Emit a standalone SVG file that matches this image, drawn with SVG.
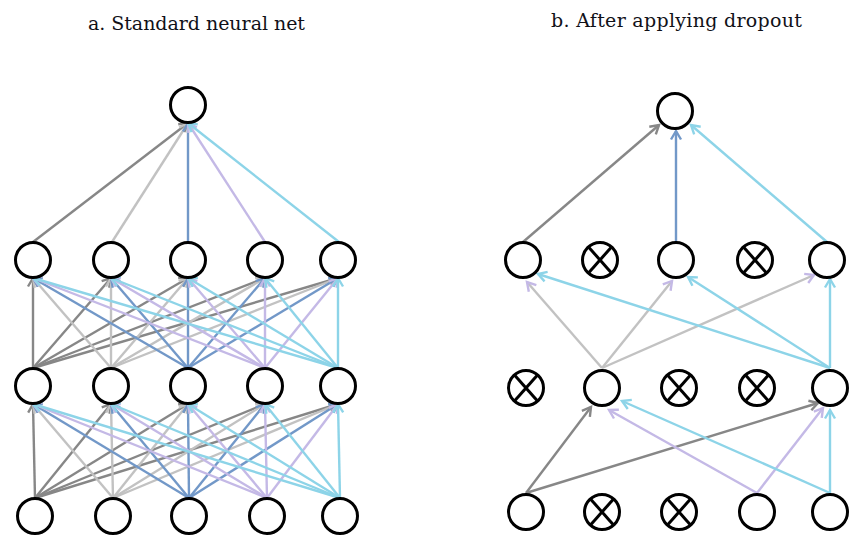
<svg xmlns="http://www.w3.org/2000/svg" width="850" height="538" viewBox="0 0 850 538">
  <style>
    .title { font-family: "DejaVu Serif", "Liberation Serif", serif; font-size: 19px; fill: #111118; }
    .node use { fill: #ffffff; stroke: #000000; stroke-width: 3; }
    .node line { stroke: #000000; stroke-width: 3; stroke-linecap: butt; }
    #edges line { fill: none; stroke-width: 2.4; }
    .c0 { stroke: #878787; marker-end: url(#h0); }
    .c1 { stroke: #c2c2c2; marker-end: url(#h1); }
    .c2 { stroke: #7298c8; marker-end: url(#h2); }
    .c3 { stroke: #c4b9e6; marker-end: url(#h3); }
    .c4 { stroke: #8dd4e8; marker-end: url(#h4); }
    .c1 .lh { marker-end: url(#h3); }
  </style>
  <defs>
    <!-- open "V" arrowheads, one per edge colour -->
    <marker id="h0" markerUnits="userSpaceOnUse" viewBox="-12 -7 14 14" markerWidth="14" markerHeight="14" refX="0" refY="0" orient="auto" overflow="visible">
      <path d="M-8.5,-5 L0,0 L-8.5,5" fill="none" stroke="#878787" stroke-width="2.4"/>
    </marker>
    <marker id="h1" markerUnits="userSpaceOnUse" viewBox="-12 -7 14 14" markerWidth="14" markerHeight="14" refX="0" refY="0" orient="auto" overflow="visible">
      <path d="M-8.5,-5 L0,0 L-8.5,5" fill="none" stroke="#c2c2c2" stroke-width="2.4"/>
    </marker>
    <marker id="h2" markerUnits="userSpaceOnUse" viewBox="-12 -7 14 14" markerWidth="14" markerHeight="14" refX="0" refY="0" orient="auto" overflow="visible">
      <path d="M-8.5,-5 L0,0 L-8.5,5" fill="none" stroke="#7298c8" stroke-width="2.4"/>
    </marker>
    <marker id="h3" markerUnits="userSpaceOnUse" viewBox="-12 -7 14 14" markerWidth="14" markerHeight="14" refX="0" refY="0" orient="auto" overflow="visible">
      <path d="M-8.5,-5 L0,0 L-8.5,5" fill="none" stroke="#c4b9e6" stroke-width="2.4"/>
    </marker>
    <marker id="h4" markerUnits="userSpaceOnUse" viewBox="-12 -7 14 14" markerWidth="14" markerHeight="14" refX="0" refY="0" orient="auto" overflow="visible">
      <path d="M-8.5,-5 L0,0 L-8.5,5" fill="none" stroke="#8dd4e8" stroke-width="2.4"/>
    </marker>
    <circle id="o" r="17.5"/>
  </defs>

  <text class="title" x="88" y="30" textLength="217" lengthAdjust="spacing">a. Standard neural net</text>
  <text class="title" x="551" y="27" textLength="251" lengthAdjust="spacing">b. After applying dropout</text>

  <g id="edges">
    <!-- left: fully connected net -->
    <g class="c0">
      <line x1="33" y1="242" x2="188" y2="123"/>
      <line x1="33" y1="368" x2="33" y2="278"/>
      <line x1="33" y1="368" x2="111" y2="278"/>
      <line x1="33" y1="368" x2="188" y2="278"/>
      <line x1="33" y1="368" x2="265" y2="278"/>
      <line x1="33" y1="368" x2="338" y2="278"/>
      <line x1="35" y1="498" x2="33" y2="404"/>
      <line x1="35" y1="498" x2="111" y2="404"/>
      <line x1="35" y1="498" x2="188" y2="404"/>
      <line x1="35" y1="498" x2="265" y2="404"/>
      <line x1="35" y1="498" x2="338" y2="404"/>
    </g>
    <g class="c1">
      <line x1="112" y1="242" x2="188" y2="123"/>
      <line x1="111" y1="368" x2="33" y2="278"/>
      <line x1="111" y1="368" x2="111" y2="278"/>
      <line x1="111" y1="368" x2="188" y2="278"/>
      <line x1="111" y1="368" x2="265" y2="278"/>
      <line x1="111" y1="368" x2="338" y2="278"/>
      <line x1="113" y1="498" x2="33" y2="404"/>
      <line x1="113" y1="498" x2="111" y2="404"/>
      <line x1="113" y1="498" x2="188" y2="404"/>
      <line x1="113" y1="498" x2="265" y2="404"/>
      <line x1="113" y1="498" x2="338" y2="404"/>
    </g>
    <g class="c2">
      <line x1="188" y1="242" x2="188" y2="123"/>
      <line x1="188" y1="368" x2="33" y2="278"/>
      <line x1="188" y1="368" x2="111" y2="278"/>
      <line x1="188" y1="368" x2="188" y2="278"/>
      <line x1="188" y1="368" x2="265" y2="278"/>
      <line x1="188" y1="368" x2="338" y2="278"/>
      <line x1="189" y1="498" x2="33" y2="404"/>
      <line x1="189" y1="498" x2="111" y2="404"/>
      <line x1="189" y1="498" x2="188" y2="404"/>
      <line x1="189" y1="498" x2="265" y2="404"/>
      <line x1="189" y1="498" x2="338" y2="404"/>
    </g>
    <g class="c3">
      <line x1="265" y1="242" x2="188" y2="123"/>
      <line x1="265" y1="368" x2="33" y2="278"/>
      <line x1="265" y1="368" x2="111" y2="278"/>
      <line x1="265" y1="368" x2="188" y2="278"/>
      <line x1="265" y1="368" x2="265" y2="278"/>
      <line x1="265" y1="368" x2="338" y2="278"/>
      <line x1="267" y1="498" x2="33" y2="404"/>
      <line x1="267" y1="498" x2="111" y2="404"/>
      <line x1="267" y1="498" x2="188" y2="404"/>
      <line x1="267" y1="498" x2="265" y2="404"/>
      <line x1="267" y1="498" x2="338" y2="404"/>
    </g>
    <g class="c4">
      <line x1="339" y1="242" x2="188" y2="123"/>
      <line x1="338" y1="368" x2="33" y2="278"/>
      <line x1="338" y1="368" x2="111" y2="278"/>
      <line x1="338" y1="368" x2="188" y2="278"/>
      <line x1="338" y1="368" x2="265" y2="278"/>
      <line x1="338" y1="368" x2="338" y2="278"/>
      <line x1="340" y1="498" x2="33" y2="404"/>
      <line x1="340" y1="498" x2="111" y2="404"/>
      <line x1="340" y1="498" x2="188" y2="404"/>
      <line x1="340" y1="498" x2="265" y2="404"/>
      <line x1="340" y1="498" x2="338" y2="404"/>
    </g>

    <!-- right: thinned net, only surviving units keep their links -->
    <g class="c0">
      <line x1="523" y1="242" x2="659" y2="125"/>
      <line x1="526" y1="493" x2="591" y2="407"/>
      <line x1="526" y1="493" x2="818" y2="403"/>
    </g>
    <g class="c1">
      <line class="lh" x1="602" y1="368" x2="527" y2="282"/>
      <line class="lh" x1="602" y1="368" x2="672" y2="281"/>
      <line class="lh" x1="602" y1="368" x2="814" y2="275"/>
    </g>
    <g class="c2">
      <line x1="676" y1="242" x2="676" y2="131"/>
    </g>
    <g class="c3">
      <line x1="757" y1="493" x2="609" y2="410"/>
      <line x1="757" y1="493" x2="823" y2="408"/>
    </g>
    <g class="c4">
      <line x1="827" y1="242" x2="691" y2="125"/>
      <line x1="830" y1="368" x2="538" y2="274"/>
      <line x1="830" y1="368" x2="688" y2="277"/>
      <line x1="830" y1="368" x2="830" y2="279"/>
      <line x1="830" y1="493" x2="622" y2="401"/>
      <line x1="830" y1="493" x2="830" y2="410"/>
    </g>
  </g>

  <!-- left network nodes -->
  <g id="a-out" class="node"><use href="#o" x="188" y="105"/></g>
  <g id="a-h2-0" class="node"><use href="#o" x="33" y="260"/></g>
  <g id="a-h2-1" class="node"><use href="#o" x="111" y="260"/></g>
  <g id="a-h2-2" class="node"><use href="#o" x="188" y="260"/></g>
  <g id="a-h2-3" class="node"><use href="#o" x="265" y="260"/></g>
  <g id="a-h2-4" class="node"><use href="#o" x="338" y="260"/></g>
  <g id="a-h1-0" class="node"><use href="#o" x="33" y="386"/></g>
  <g id="a-h1-1" class="node"><use href="#o" x="111" y="386"/></g>
  <g id="a-h1-2" class="node"><use href="#o" x="188" y="386"/></g>
  <g id="a-h1-3" class="node"><use href="#o" x="265" y="386"/></g>
  <g id="a-h1-4" class="node"><use href="#o" x="338" y="386"/></g>
  <g id="a-in-0" class="node"><use href="#o" x="35" y="516"/></g>
  <g id="a-in-1" class="node"><use href="#o" x="113" y="516"/></g>
  <g id="a-in-2" class="node"><use href="#o" x="189" y="516"/></g>
  <g id="a-in-3" class="node"><use href="#o" x="267" y="516"/></g>
  <g id="a-in-4" class="node"><use href="#o" x="340" y="516"/></g>

  <!-- right network nodes; dropped units are crossed out -->
  <g id="b-out" class="node"><use href="#o" x="675" y="111"/></g>
  <g id="b-h2-0" class="node"><use href="#o" x="523" y="260"/></g>
  <g id="b-h2-1" class="node"><use href="#o" x="600" y="260"/><line x1="588.5" y1="246.9" x2="611.5" y2="273.1"/><line x1="611.5" y1="246.9" x2="588.5" y2="273.1"/></g>
  <g id="b-h2-2" class="node"><use href="#o" x="676" y="260"/></g>
  <g id="b-h2-3" class="node"><use href="#o" x="755" y="260"/><line x1="743.5" y1="246.9" x2="766.5" y2="273.1"/><line x1="766.5" y1="246.9" x2="743.5" y2="273.1"/></g>
  <g id="b-h2-4" class="node"><use href="#o" x="827" y="260"/></g>
  <g id="b-h1-0" class="node"><use href="#o" x="526" y="388"/><line x1="514.5" y1="374.9" x2="537.5" y2="401.1"/><line x1="537.5" y1="374.9" x2="514.5" y2="401.1"/></g>
  <g id="b-h1-1" class="node"><use href="#o" x="602" y="388"/></g>
  <g id="b-h1-2" class="node"><use href="#o" x="679" y="388"/><line x1="667.5" y1="374.9" x2="690.5" y2="401.1"/><line x1="690.5" y1="374.9" x2="667.5" y2="401.1"/></g>
  <g id="b-h1-3" class="node"><use href="#o" x="757" y="388"/><line x1="745.5" y1="374.9" x2="768.5" y2="401.1"/><line x1="768.5" y1="374.9" x2="745.5" y2="401.1"/></g>
  <g id="b-h1-4" class="node"><use href="#o" x="830" y="388"/></g>
  <g id="b-in-0" class="node"><use href="#o" x="526" y="512"/></g>
  <g id="b-in-1" class="node"><use href="#o" x="602" y="512"/><line x1="590.5" y1="498.9" x2="613.5" y2="525.1"/><line x1="613.5" y1="498.9" x2="590.5" y2="525.1"/></g>
  <g id="b-in-2" class="node"><use href="#o" x="679" y="512"/><line x1="667.5" y1="498.9" x2="690.5" y2="525.1"/><line x1="690.5" y1="498.9" x2="667.5" y2="525.1"/></g>
  <g id="b-in-3" class="node"><use href="#o" x="757" y="512"/></g>
  <g id="b-in-4" class="node"><use href="#o" x="830" y="512"/></g>
</svg>
